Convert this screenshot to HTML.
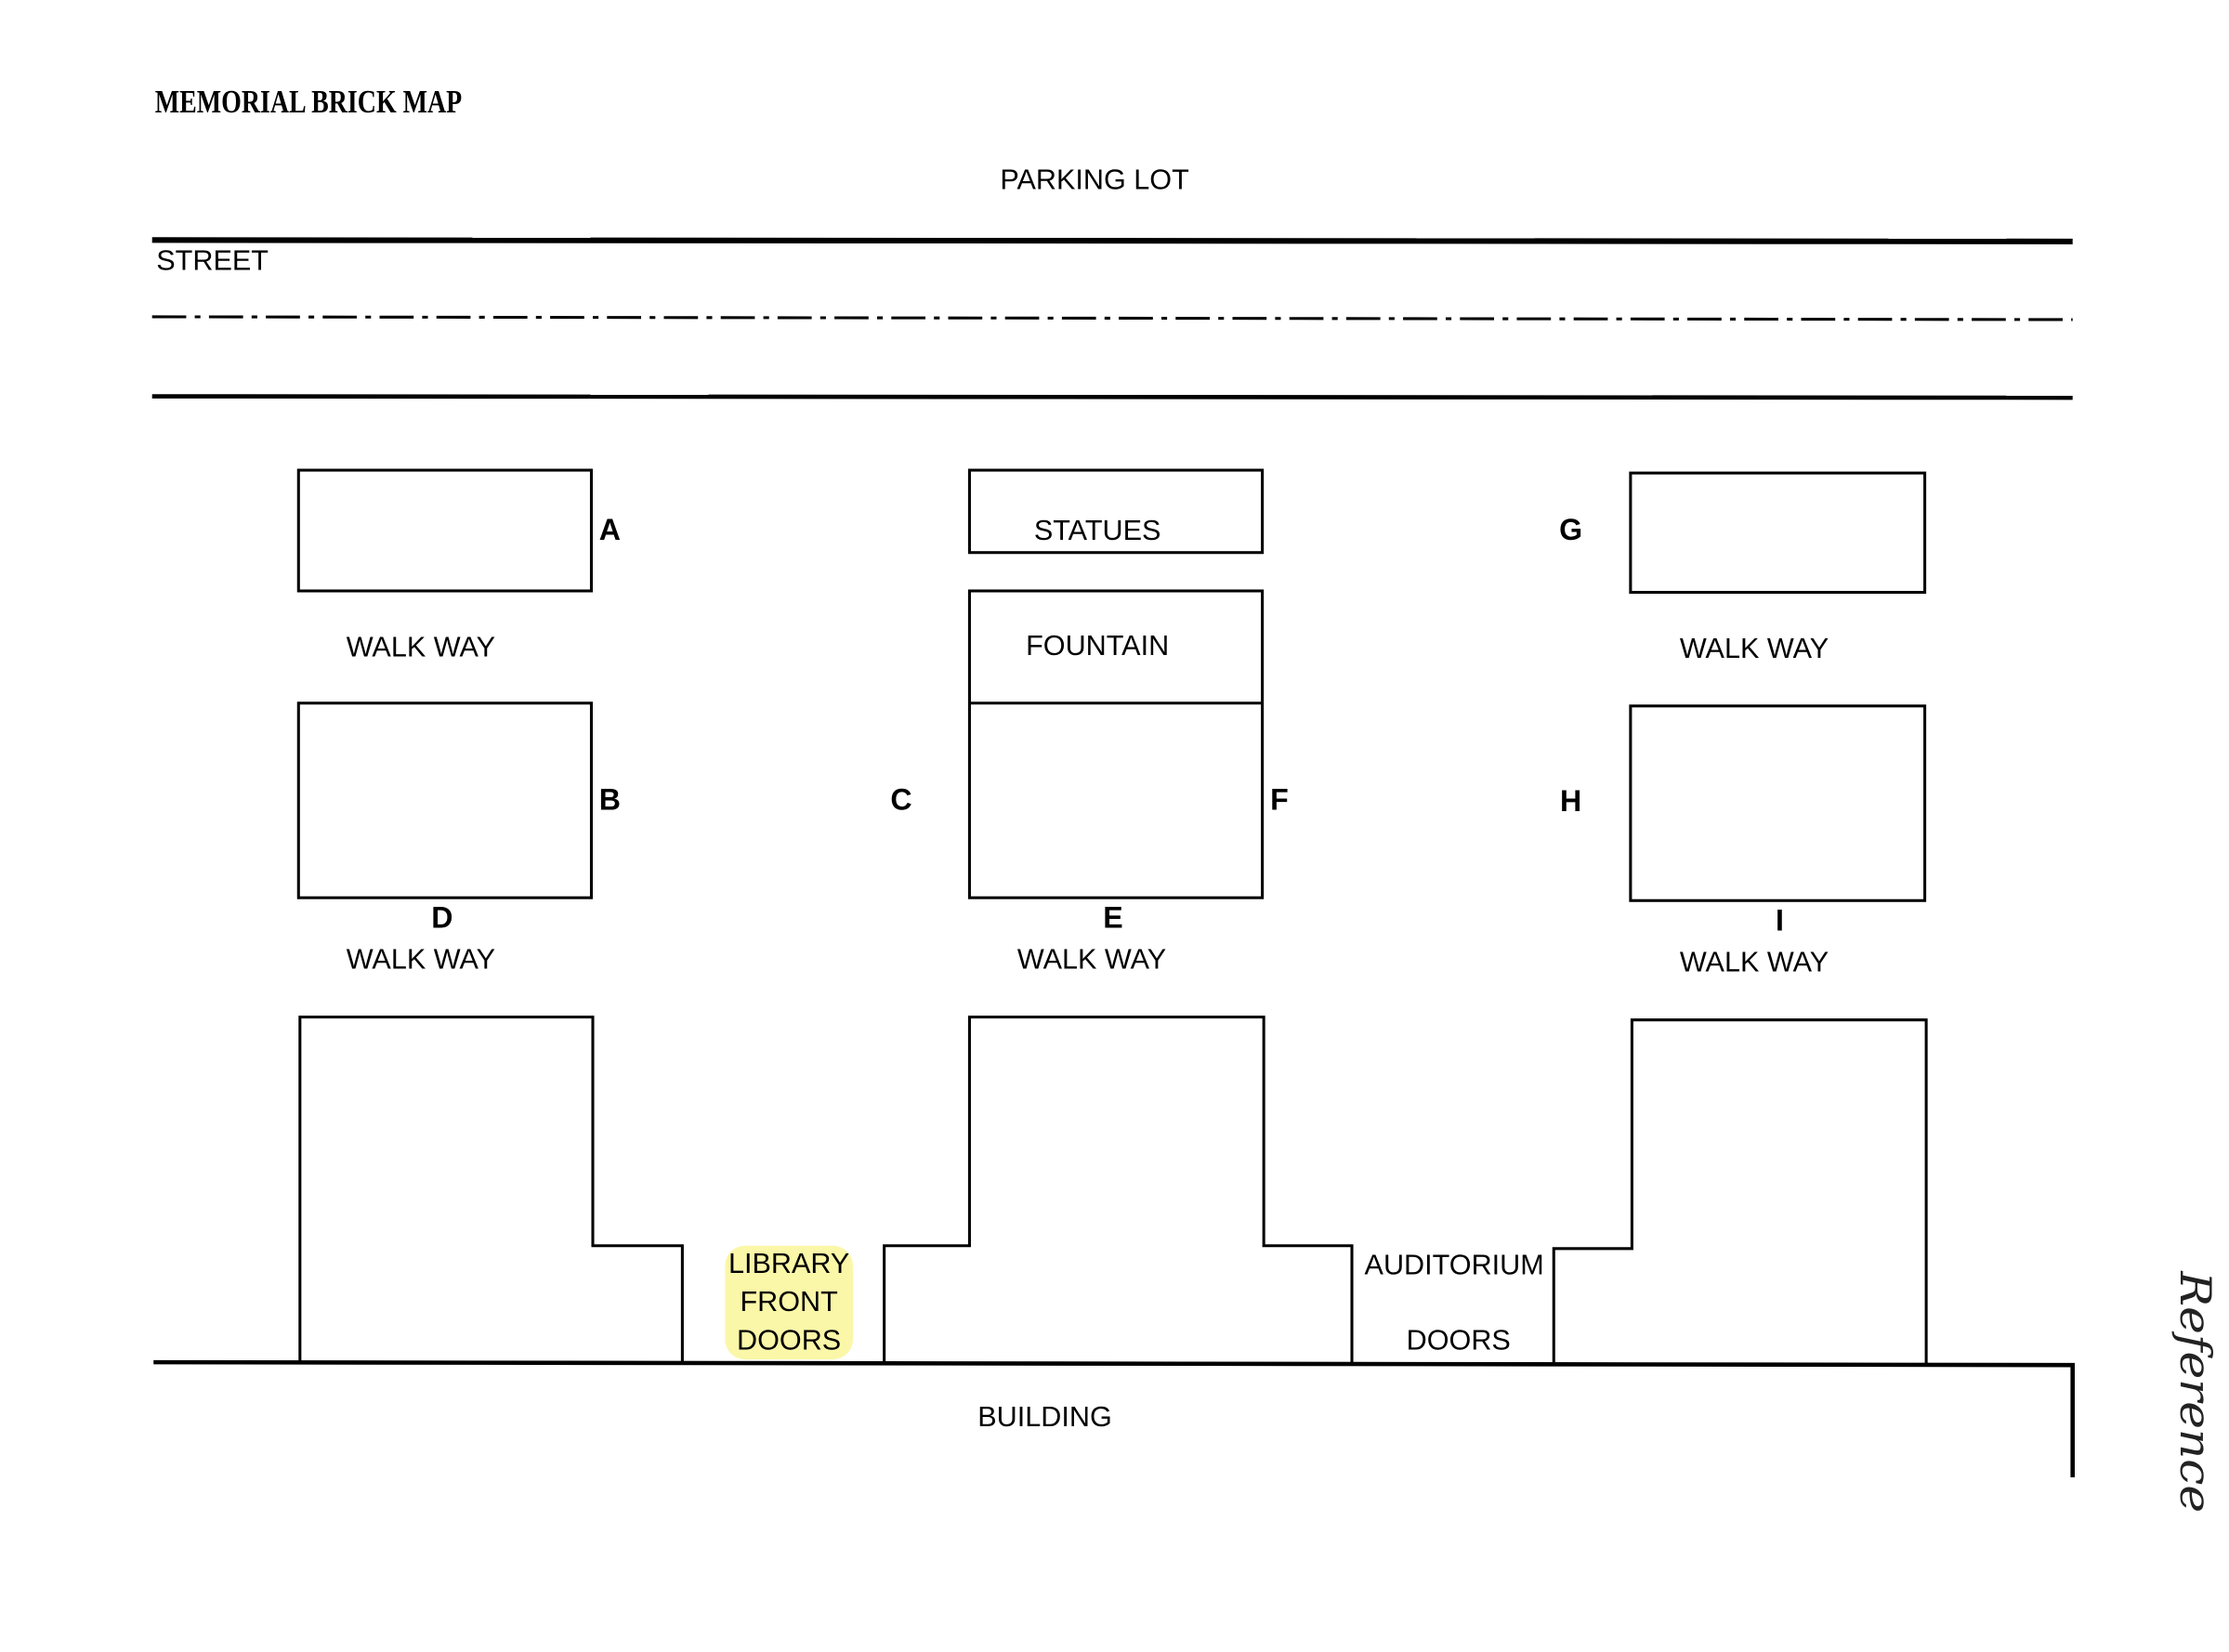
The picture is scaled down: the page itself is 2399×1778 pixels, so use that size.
<!DOCTYPE html>
<html><head><style>html,body{margin:0;padding:0;background:#fff}svg{display:block}</style></head>
<body>
<svg width="2399" height="1778" viewBox="0 0 1568 1163" preserveAspectRatio="none" xmlns="http://www.w3.org/2000/svg" font-family="Liberation Sans, sans-serif" font-size="20">
<rect width="1568" height="1163" fill="#fff"/>
<text x="109" y="79" font-family="Liberation Serif, serif" font-weight="bold" font-size="23" textLength="216" lengthAdjust="spacingAndGlyphs">MEMORIAL BRICK MAP</text>
<text x="770" y="133" text-anchor="middle">PARKING LOT</text>
<line x1="107" y1="169" x2="1458" y2="170" stroke="#000" stroke-width="4"/>
<text x="110" y="190">STREET</text>
<line x1="107" y1="223" x2="1458" y2="225" stroke="#000" stroke-width="2" stroke-dasharray="24,6,4,6"/>
<line x1="107" y1="279" x2="1458" y2="280" stroke="#000" stroke-width="3"/>
<g fill="none" stroke="#000" stroke-width="2">
<rect x="210" y="331" width="206" height="85"/>
<rect x="682" y="331" width="206" height="58"/>
<rect x="1147" y="333" width="207" height="84"/>
<rect x="682" y="416" width="206" height="216"/>
<line x1="682" y1="495" x2="888" y2="495"/>
<rect x="210" y="495" width="206" height="137"/>
<rect x="1147" y="497" width="207" height="137"/>
<polyline points="211,959 211,716 417,716 417,877 480,877 480,959"/>
<polyline points="622,959 622,877 682,877 682,716 889,716 889,877 951,877 951,959"/>
<polyline points="1093,959 1093,879 1148,879 1148,718 1355,718 1355,960"/>
<polyline points="108,959 1458,961 1458,1040" stroke-width="3"/>
</g>
<g font-weight="bold" font-size="21" text-anchor="middle">
<text x="429" y="380">A</text><text x="1105" y="380">G</text>
<text x="429" y="570">B</text><text x="634" y="570">C</text><text x="900" y="570">F</text><text x="1105" y="571">H</text>
<text x="311" y="653">D</text><text x="783" y="653">E</text><text x="1252" y="655">I</text>
</g>
<g text-anchor="middle">
<text x="772" y="380">STATUES</text>
<text x="772" y="461">FOUNTAIN</text>
<text x="296" y="462">WALK WAY</text><text x="1234" y="463">WALK WAY</text>
<text x="296" y="682">WALK WAY</text><text x="768" y="682">WALK WAY</text><text x="1234" y="684">WALK WAY</text>
<rect x="510" y="877" width="90" height="80" fill="#fbf7a8" rx="14"/>
<text x="555" y="896">LIBRARY</text><text x="555" y="923">FRONT</text><text x="555" y="950">DOORS</text>
<text x="1023" y="897">AUDITORIUM</text><text x="1026" y="950">DOORS</text>
<text x="735" y="1004">BUILDING</text>
</g>
<text x="0" y="0" font-family="DejaVu Serif, serif" font-style="italic" font-size="30" transform="translate(1534,895) rotate(90)" textLength="170" lengthAdjust="spacingAndGlyphs" fill="#222">Reference</text>
</svg>
</body></html>
